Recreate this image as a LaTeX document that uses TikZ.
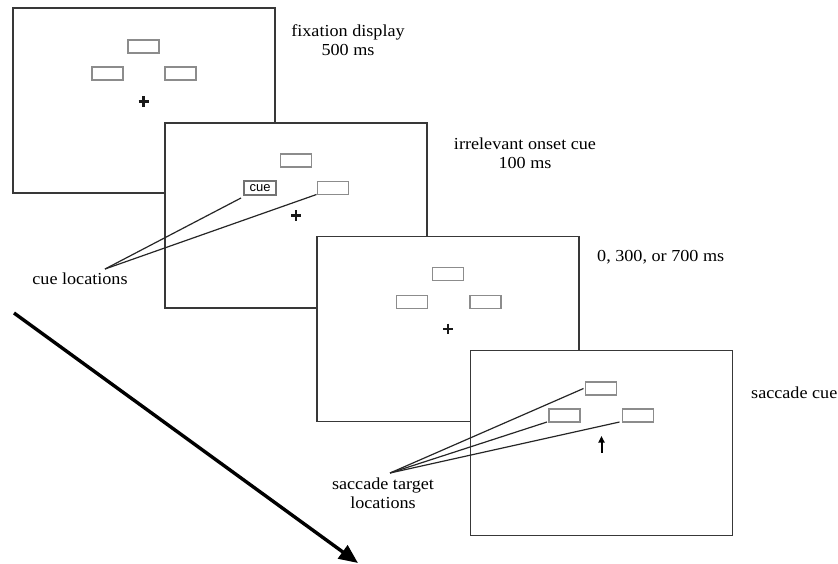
\documentclass[tikz,border=0pt]{standalone}
\usepackage{fontspec}
\setmainfont{Liberation Serif}[FakeStretch=1.08]
\newfontfamily\cuefont{Liberation Sans}
\usetikzlibrary{arrows.meta,calc}
\tikzset{
  screen/.style={draw=black!78, line width=1.5pt, fill=white, minimum width=262pt, minimum height=185pt, inner sep=0pt, outer sep=0pt},
  loc/.style={draw=black!45, line width=1.1pt, fill=white, minimum width=31pt, minimum height=13pt, inner sep=0pt, outer sep=0pt},
  cuebox/.style={draw=black!55, line width=1.1pt, fill=white, minimum width=32pt, minimum height=14pt, inner sep=0pt, outer sep=0pt, font=\cuefont\fontsize{13}{13}\selectfont},
  fixcross/.style={line width=2.4pt, black!90},
  lbl/.style={font=\fontsize{16.8}{19}\selectfont, align=center, inner sep=0pt},
  leader/.style={draw=black!85, line width=1.2pt},
}
\newcommand{\fixplus}[1]{\draw[fixcross] ($(#1)+(-5,0)$) -- ($(#1)+(5,0)$); \draw[fixcross] ($(#1)+(0,-5.3)$) -- ($(#1)+(0,5.3)$);}
\begin{document}
\begin{tikzpicture}[x=1pt,y=-1pt]
\useasboundingbox (0,0) rectangle (838,563);
% screen 1
\node[screen] (f1) at (144,100.5) {};
\node[loc] (a1) at (143.5,46.5) {};
\node[loc] (a2) at (107.5,73.5) {};
\node[loc] (a3) at (180.5,73.5) {};
\coordinate (c1) at (143.5,101.5);
\fixplus{c1}
% screen 2
\node[screen] (f2) at (296,215.5) {};
\node[loc] (b1) at (296,160.5) {};
\node[cuebox] (b2) at (260,188) {cue};
\node[loc] (b3) at (333,188) {};
\coordinate (c2) at (296,215.5);
\fixplus{c2}
\coordinate (cl) at (105,269);
\draw[leader] (cl) -- ([xshift=-3pt,yshift=-3pt]b2.south west);
\draw[leader] (cl) -- ([xshift=-1pt]b3.south west);
% screen 3
\node[screen] (f3) at (448,329) {};
\node[loc] (d1) at (448,274) {};
\node[loc] (d2) at (412,302) {};
\node[loc] (d3) at (485.5,302) {};
\coordinate (c3) at (448,329);
\fixplus{c3}
% screen 4
\node[screen] (f4) at (601.5,443) {};
\node[loc] (e1) at (601,388.5) {};
\node[loc] (e2) at (564.5,415.5) {};
\node[loc] (e3) at (638,415.5) {};
\coordinate (ub) at (601.5,452.5);
\coordinate (ut) at (601.5,436);
\draw[line width=2pt, -{Triangle[length=6.5pt,width=6pt]}] (ub) -- (ut);
\coordinate (st) at (390,473);
\draw[leader] (st) -- ([xshift=-2pt]e1.west);
\draw[leader] (st) -- ([xshift=-2pt]e2.south west);
\draw[leader] (st) -- ([xshift=-3pt]e3.south west);
% labels
\node[lbl] (t1) at (348,40) {fixation display\\500 ms};
\node[lbl] (t2) at (525,153) {irrelevant onset cue\\100 ms};
\node[lbl, anchor=base west] (t3) at (597,261) {0, 300, or 700 ms};
\node[lbl, anchor=base east] (t4) at (837.5,398) {saccade cue};
\node[lbl] (t5) at (80,279) {cue locations};
\node[lbl] (t6) at (383,493) {saccade target\\locations};
% time arrow
\coordinate (ta) at (14,313);
\coordinate (tb) at (358,563);
\draw[line width=3.4pt, -{Triangle[length=19pt,width=16pt]}] (ta) -- (tb);
\end{tikzpicture}
\end{document}
